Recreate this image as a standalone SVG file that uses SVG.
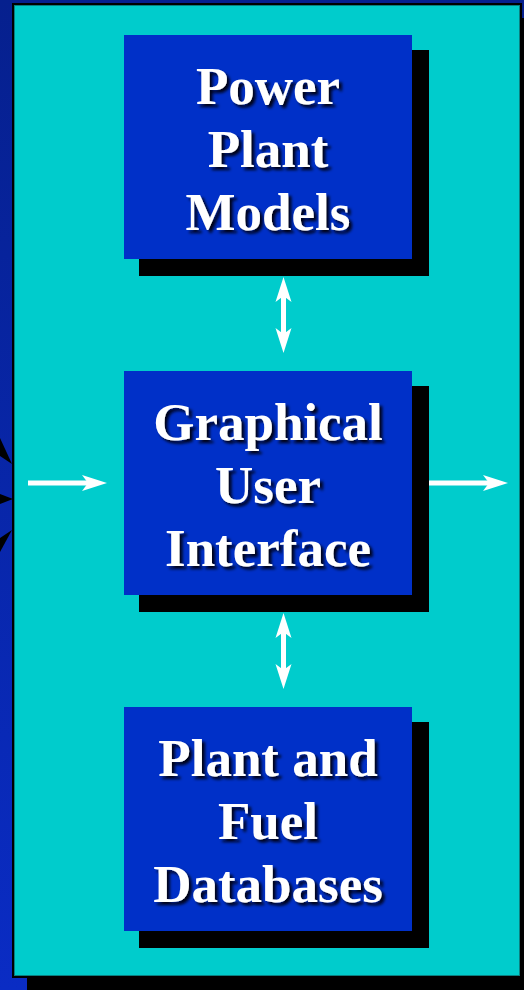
<svg xmlns="http://www.w3.org/2000/svg" width="524" height="990" viewBox="0 0 524 990">
  <defs>
    <linearGradient id="bg" x1="0" y1="0" x2="0" y2="1">
      <stop offset="0" stop-color="#06208e"/>
      <stop offset="1" stop-color="#0a2cc4"/>
    </linearGradient>
    <filter id="txtShadow" x="-10%" y="-20%" width="130%" height="150%">
      <feDropShadow dx="3" dy="3" stdDeviation="1.4" flood-color="#000010" flood-opacity="0.95"/>
    </filter>
    <marker id="head" viewBox="-26 -9 27 18" markerWidth="27" markerHeight="18" refX="-19" refY="0" markerUnits="userSpaceOnUse" orient="auto-start-reverse">
      <path d="M0,0 L-25,-8 L-19,0 L-25,8 Z" fill="#ffffff"/>
    </marker>
    <style>
      .box { fill: #0030c8; }
      .shadow { fill: #000000; }
      .label { font-family: "Liberation Serif", "Times New Roman", serif; font-weight: bold; font-size: 53px; fill: #ffffff; text-anchor: middle; filter: url(#txtShadow); }
      .conn { stroke: #ffffff; stroke-width: 5; fill: none; marker-end: url(#head); }
      .both { marker-start: url(#head); }
    </style>
  </defs>

  <!-- slide background -->
  <rect x="0" y="0" width="524" height="990" fill="url(#bg)"/>
  <!-- starburst spikes peeking in at the left edge -->
  <g fill="#000000">
    <polygon points="0,438 12,464 0,456"/>
    <polygon points="0,494 13,499 0,504"/>
    <polygon points="0,552 12,530 0,538"/>
  </g>

  <!-- framed panel with drop shadow -->
  <rect x="27" y="18" width="510" height="990" fill="#000000"/>
  <rect x="13" y="4" width="508" height="973" fill="#00cccc" stroke="#000000" stroke-width="2"/>
  <rect x="14.5" y="5.5" width="505" height="970" fill="none" stroke="#0a7f80" stroke-width="1"/>

  <!-- connectors -->
  <g id="connectors">
    <line class="conn" x1="28" y1="483" x2="88" y2="483"/>
    <line class="conn" x1="428" y1="483" x2="489" y2="483"/>
    <line class="conn both" x1="283.5" y1="296" x2="283.5" y2="334"/>
    <line class="conn both" x1="283.5" y1="632" x2="283.5" y2="670"/>
  </g>

  <g id="power-plant-models">
    <rect class="shadow" x="139" y="50" width="290" height="226"/>
    <rect class="box" x="124" y="35" width="288" height="224"/>
    <text class="label" x="268" y="104">Power</text>
    <text class="label" x="268" y="167">Plant</text>
    <text class="label" x="268" y="230">Models</text>
  </g>

  <g id="graphical-user-interface">
    <rect class="shadow" x="139" y="386" width="290" height="226"/>
    <rect class="box" x="124" y="371" width="288" height="224"/>
    <text class="label" x="268" y="440">Graphical</text>
    <text class="label" x="268" y="503">User</text>
    <text class="label" x="268" y="566">Interface</text>
  </g>

  <g id="plant-fuel-databases">
    <rect class="shadow" x="139" y="722" width="290" height="226"/>
    <rect class="box" x="124" y="707" width="288" height="224"/>
    <text class="label" x="268" y="776">Plant and</text>
    <text class="label" x="268" y="839">Fuel</text>
    <text class="label" x="268" y="902">Databases</text>
  </g>
</svg>
